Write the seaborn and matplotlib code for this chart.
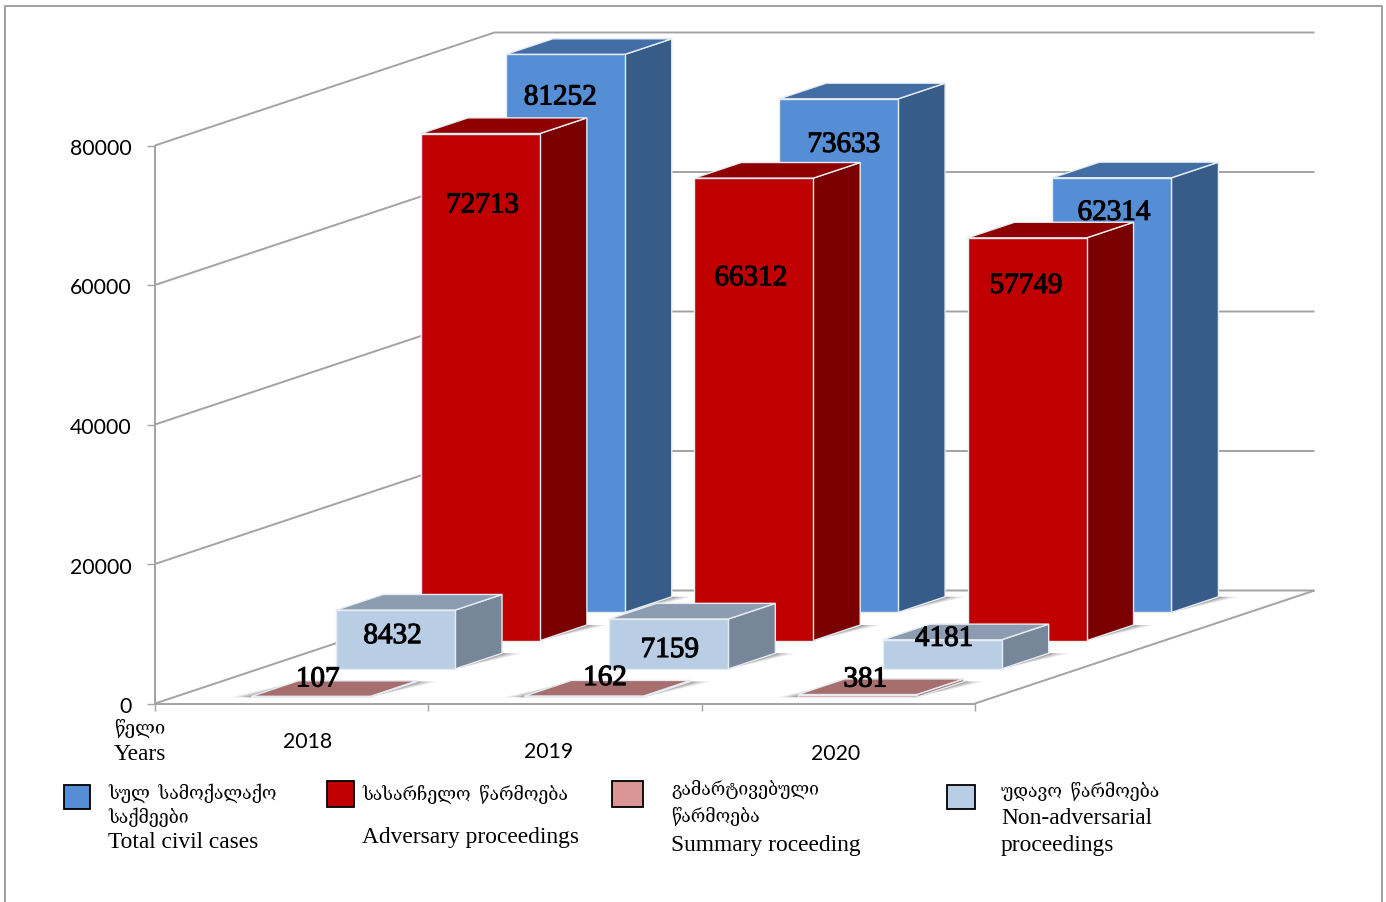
import matplotlib
matplotlib.use("Agg")
import matplotlib.pyplot as plt
from matplotlib.lines import Line2D
from matplotlib.patches import Polygon, Rectangle
import matplotlib.patheffects as pe
from matplotlib.transforms import Affine2D
import numpy as np
import pandas as pd
import seaborn as sns

# ---- data ----
years = ["2018", "2019", "2020"]
series_order = ["Summary", "Non-adversarial", "Adversary", "Total"]
summary = [107, 162, 381]
non_adversarial = [8432, 7159, 4181]
adversary = [72713, 66312, 57749]
total = [81252, 73633, 62314]
y_ticks = [0, 20000, 40000, 60000, 80000]
y_max = 80000

# ---- styles ----
front = {"Summary": "#D99694", "Non-adversarial": "#B9CDE5", "Adversary": "#C00000", "Total": "#558ED5"}
top_c = {"Summary": "#A66F6E", "Non-adversarial": "#8C9DB2", "Adversary": "#8F0000", "Total": "#426EA5"}
side_c = {"Summary": "#A66F6E", "Non-adversarial": "#78869A", "Adversary": "#7A0000", "Total": "#375C8A"}
label_shift = {
    "Summary": [(7, 17), (21, 18), (8, 15)],
    "Non-adversarial": [(-3, -26), (1, -31), (2, 1)],
    "Adversary": [(2, -72), (-3, -100), (-1, -48)],
    "Total": [(-5, -43), (5, -46), (2, -35)],
}
W, H = 1386, 902
AX_L, AX_R, AX_T, AX_B = 155, 975, 145.5, 703.5
DEPTH_PX_X, DEPTH_PX_Y = 339.5, 113
GRAY = "#A3A3A3"
SERIF = ["Liberation Serif", "DejaVu Serif", "DejaVu Sans"]

sns.set_theme(style="white")
plt.rcParams["font.family"] = ["Lato", "DejaVu Sans"]

fig = plt.figure(figsize=(W / 100, H / 100), dpi=100, facecolor="white")
ax = fig.add_axes([AX_L / W, 1 - AX_B / H, (AX_R - AX_L) / W, (AX_B - AX_T) / H])
ax.patch.set_alpha(0)

df = pd.DataFrame({
    "year": years * 4,
    "series": np.repeat(series_order, 3),
    "value": summary + non_adversarial + adversary + total,
})
df["shown"] = df["value"].clip(upper=y_max)

BAR_W = 119 / ((AX_R - AX_L) / 3)
sns.barplot(data=df, x="year", y="shown", hue="series", hue_order=series_order, order=years,
            palette=front, dodge=False, width=BAR_W, legend=False, ax=ax, saturation=1)
ax.set_xlim(-0.5, 2.5)
ax.set_ylim(0, y_max)

DX = DEPTH_PX_X / ((AX_R - AX_L) / 3)
DY = DEPTH_PX_Y / ((AX_B - AX_T) / y_max)


def proj(x, v, d):
    return (x + d * DX, v + d * DY)


# walls and floor
line_kw = dict(color=GRAY, lw=1.4, clip_on=False, zorder=1, solid_capstyle="butt")
for t in y_ticks:
    pts = [proj(-0.5, t, 0), proj(-0.5, t, 1), proj(2.5, t, 1)]
    ax.plot(*zip(*pts), **line_kw)
pts = [proj(2.5, 0, 0), proj(2.5, 0, 1)]
ax.plot(*zip(*pts), **line_kw)

ROW_F = 0.2235
BAR_D = 47 / DEPTH_PX_X
SHADOW = 20 / ((AX_R - AX_L) / 3)
edge = dict(edgecolor="#E6ECF2", lw=1.0, clip_on=False)

for row, (name, cont) in enumerate(zip(series_order, ax.containers)):
    d0 = (row + ROW_F) / 4
    d1 = d0 + BAR_D
    z = 10 - 2 * row
    vals = df.loc[df["series"] == name, "value"].tolist()
    for i, rect in enumerate(cont):
        x0, x1, h = rect.get_x(), rect.get_x() + rect.get_width(), rect.get_height()
        # floor shadow
        for k, a in zip((1.0, 0.7, 0.45, 0.25), (0.14, 0.18, 0.24, 0.3)):
            b = proj(x1, 0, d1)
            tri = [proj(x1, 0, d0), b, (b[0] + SHADOW * k, b[1])]
            ax.add_patch(Polygon(tri, closed=True, fc="#666666", ec="none", alpha=a, zorder=z - 0.5, clip_on=False))
            if row == 0:
                tri = [proj(x0 - SHADOW * k, 0, d0), proj(x0, 0, d0), proj(x0, 0, d1)]
                ax.add_patch(Polygon(tri, closed=True, fc="#666666", ec="none", alpha=a, zorder=z - 0.5, clip_on=False))
        # side and top faces
        side = [proj(x1, 0, d0), proj(x1, 0, d1), proj(x1, h, d1), proj(x1, h, d0)]
        top = [proj(x0, h, d0), proj(x0, h, d1), proj(x1, h, d1), proj(x1, h, d0)]
        ax.add_patch(Polygon(side, closed=True, fc=side_c[name], zorder=z, **edge))
        ax.add_patch(Polygon(top, closed=True, fc=top_c[name], zorder=z + 0.1, **edge))
        # front face: the seaborn bar, pushed back to its row
        px, py = proj(x0, 0, d0)
        rect.set_xy((px, py))
        rect.set(zorder=z + 0.2, clip_on=False, edgecolor="#E6ECF2", linewidth=1.0)
        # value label
        cx, cy = proj((x0 + x1) / 2, h, d0)
        ax.annotate(str(vals[i]), (cx, cy), xytext=label_shift[name][i], textcoords="offset pixels",
                    ha="center", va="center", fontsize=21, family=SERIF, color="black", zorder=30,
                    annotation_clip=False,
                    path_effects=[pe.withStroke(linewidth=0.8, foreground="black")])

# axes
for s in ("top", "right"):
    ax.spines[s].set_visible(False)
for s in ("left", "bottom"):
    ax.spines[s].set_color(GRAY)
    ax.spines[s].set_linewidth(1.4)
    ax.spines[s].set_zorder(1)
ax.set_xlabel("")
ax.set_ylabel("")
ax.set_yticks(y_ticks)
ax.set_yticklabels([str(t) for t in y_ticks])
ax.tick_params(axis="y", left=True, length=5.8, width=1.0, color=GRAY, pad=11, labelsize=15.3, labelcolor="black")
for lab in ax.get_yticklabels():
    lab.set_transform(lab.get_transform() + Affine2D().translate(0, -1.5))
ax.set_xticks(range(len(years)))
ax.set_xticklabels(years)
ax.set_xticks([-0.5, 0.5, 1.5, 2.5], minor=True)
ax.tick_params(axis="x", which="major", bottom=False, length=0, pad=0, labelsize=15.3, labelcolor="black")
ax.tick_params(axis="x", which="minor", bottom=True, length=5, width=1.0, color=GRAY)
year_shift = [(16, -28), (-16, -39), (-3, -41)]
for lab, (sx, sy) in zip(ax.get_xticklabels(), year_shift):
    lab.set_transform(lab.get_transform() + Affine2D().translate(sx, sy))


def fx(x):
    return x / W


def fy(y):
    return 1 - y / H


GE_SIZE, EN_SIZE = 12.7, 16.8

# axis caption
fig.text(fx(114), fy(728), "წელი", family=SERIF, fontsize=13.3, color="black", va="center")
fig.text(fx(114), fy(755), "Years", family=SERIF, fontsize=EN_SIZE, color="black", va="center")

# legend
legend_boxes = [(64, 785, 26, 24, "#558ED5"), (327, 781, 27, 26, "#C00000"),
                (612, 781, 31, 26, "#D99694"), (947, 785, 28, 24, "#B9CDE5")]
for x, y, w, h, c in legend_boxes:
    fig.add_artist(Rectangle((fx(x), fy(y + h)), w / W, h / H, transform=fig.transFigure,
                             fc=c, ec="black", lw=1.3))
legend_lines = [
    (108, 793, "სულ  სამოქალაქო", GE_SIZE), (108, 817, "საქმეები", GE_SIZE), (108, 842, "Total civil cases", EN_SIZE),
    (362, 794, "სასარჩელო  წარმოება", GE_SIZE), (362, 837, "Adversary proceedings", EN_SIZE),
    (671, 789, "გამარტივებული", GE_SIZE), (671, 816, "წარმოება", GE_SIZE), (671, 846, "Summary roceeding", EN_SIZE),
    (1001, 791, "უდავო  წარმოება", GE_SIZE), (1001, 818, "Non-adversarial", EN_SIZE), (1001, 846, "proceedings", EN_SIZE),
]
for x, y, s, fs in legend_lines:
    fig.text(fx(x), fy(y), s, family=SERIF, fontsize=fs, color="black", va="center")

# outer frame, open at the bottom
frame = Line2D([fx(4.5), fx(4.5), fx(1381.5), fx(1381.5)], [0, fy(5.5), fy(5.5), 0],
               transform=fig.transFigure, color="#A0A0A0", lw=1.4)
fig.add_artist(frame)

fig.savefig("out.png", dpi=100)
